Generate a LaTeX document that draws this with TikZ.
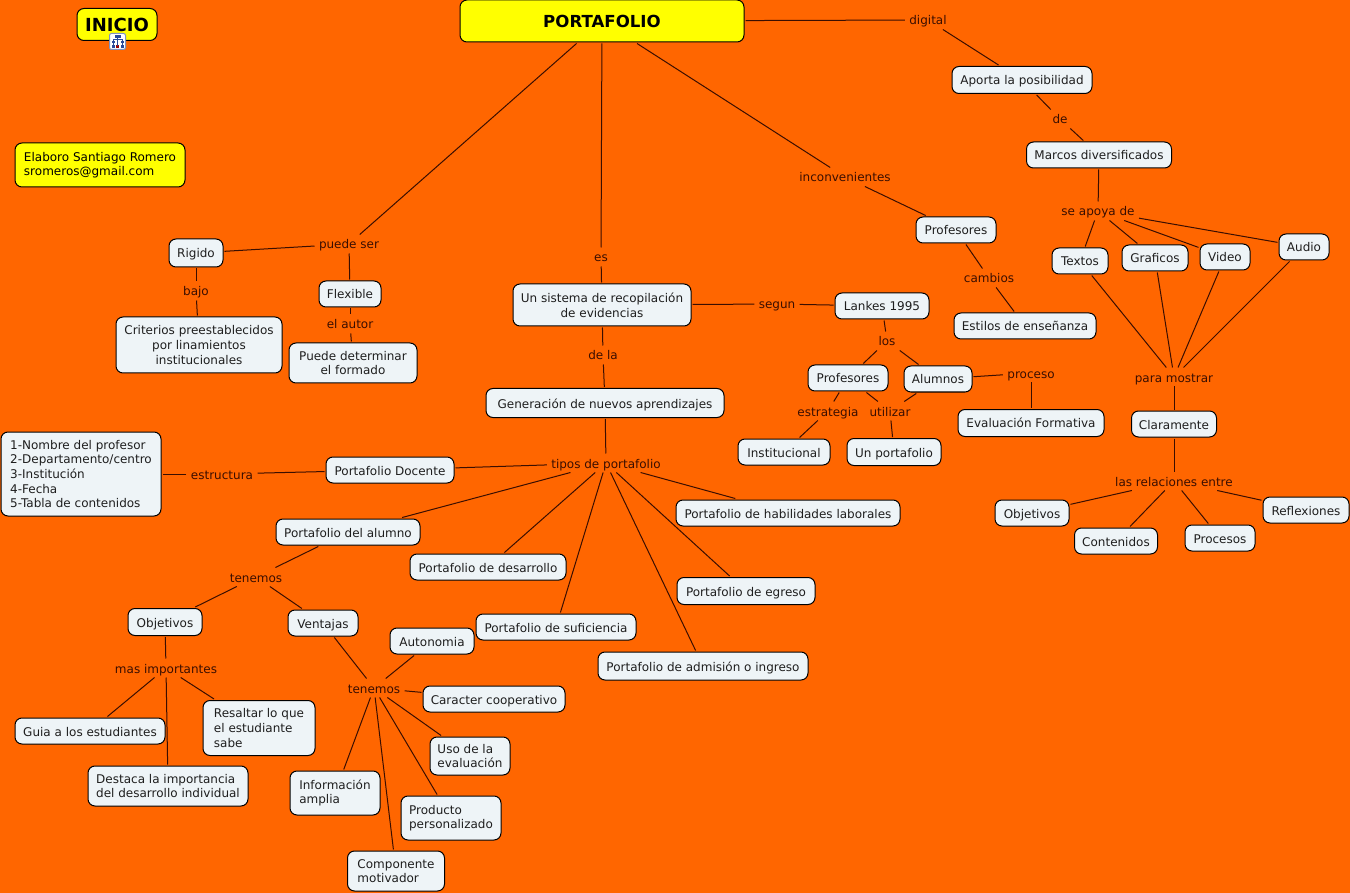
\documentclass[tikz,border=0pt]{standalone}
\usepackage{fontspec}
\setmainfont{DejaVu Sans}
\usetikzlibrary{positioning,calc}
\definecolor{paper}   {HTML}{FF6600}
\definecolor{ink}     {HTML}{1E1E1E}
\definecolor{linkink} {HTML}{3A0E00}
\definecolor{boxfill} {HTML}{EEF4F7}
\definecolor{topfill} {HTML}{FFFF00}
\definecolor{iconblue}{HTML}{2A4A9A}
\tikzset{
  % --- nodes
  bx/.style    = {rounded corners=7pt, draw=black, fill=boxfill, text=ink, align=center,
                  inner sep=0pt, outer sep=1.5pt, line width=1pt,
                  font=\fontsize{12}{14.6}\selectfont},
  con/.style   = {bx, text height=10pt, text depth=0pt},
  conc/.style  = {bx},
  conl/.style  = {bx, align=left},
  top/.style   = {bx, fill=topfill, text=black},
  lnk/.style   = {text=linkink, inner sep=1pt, outer sep=3.5pt, text height=10pt, text depth=0pt,
                  font=\fontsize{12}{14.6}\selectfont},
  % --- edges
  ln/.style    = {draw=linkink, line width=1pt},
}
\begin{document}
\begin{tikzpicture}[x=1pt,y=-1pt]
  \useasboundingbox (0,0) rectangle (1350,893);
  \fill[paper] (0,0) rectangle (1350,893);

  % top row
  \node[top,minimum width=80,minimum height=32,font=\fontsize{18}{18}\selectfont\bfseries] (inicio) at (117,24.5) {INICIO};
  \node[top,minimum width=284,minimum height=42,font=\fontsize{16.6}{18}\selectfont\bfseries] (port) at (602,21) {PORTAFOLIO};
  \node[top,align=left,minimum width=170,minimum height=44] (autor) at (100,165) {Elaboro Santiago Romero\\sromeros@gmail.com};

  % digital branch
  \node[lnk] (digital) at (928,20) {digital};
  \node[con,minimum width=140,minimum height=27] (aporta) at (1022,80) {Aporta la posibilidad};
  \node[lnk] (de) at (1060,119) {de};
  \node[con,minimum width=145,minimum height=26] (marcos) at (1099,155) {Marcos diversificados};
  \node[lnk] (apoya) at (1098,211) {se apoya de};
  \node[con,minimum width=56,minimum height=26] (textos) at (1080,261) {Textos};
  \node[con,minimum width=66,minimum height=26] (graficos) at (1155,258) {Graficos};
  \node[con,minimum width=50,minimum height=26] (video) at (1225,257) {Video};
  \node[con,minimum width=50,minimum height=26] (audio) at (1304,247) {Audio};
  \node[lnk] (mostrar) at (1174,377) {para mostrar};
  \node[con,minimum width=85,minimum height=26] (claro) at (1174,424) {Claramente};
  \node[lnk] (relac) at (1174,481) {las relaciones entre};
  \node[con,minimum width=74,minimum height=26] (obj2) at (1032,513) {Objetivos};
  \node[con,minimum width=83,minimum height=26] (conten) at (1116,541) {Contenidos};
  \node[con,minimum width=70,minimum height=26] (proces) at (1220,538) {Procesos};
  \node[con,minimum width=86,minimum height=26] (reflex) at (1306,510) {Reflexiones};

  % inconvenientes
  \node[lnk] (incon) at (845,177) {inconvenientes};
  \node[con,minimum width=80,minimum height=26] (prof1) at (956,230) {Profesores};
  \node[lnk] (cambios) at (989,278) {cambios};
  \node[con,minimum width=142,minimum height=26] (estilos) at (1025,326) {Estilos de enseñanza};

  % centre
  \node[lnk] (es) at (601,257) {es};
  \node[conc,minimum width=178,minimum height=42] (sistema) at (602,305) {Un sistema de recopilación\\de evidencias};
  \node[lnk] (segun) at (777,304) {segun};
  \node[con,minimum width=94,minimum height=26] (lankes) at (882,306) {Lankes 1995};
  \node[lnk] (los) at (887,341) {los};
  \node[con,minimum width=80,minimum height=26] (prof2) at (848,378) {Profesores};
  \node[con,minimum width=68,minimum height=26] (alum) at (938,379) {Alumnos};
  \node[lnk] (estrat) at (828,411) {estrategia};
  \node[lnk] (utiliz) at (890,411) {utilizar};
  \node[con,minimum width=92,minimum height=26] (instit) at (784,452) {Institucional};
  \node[con,minimum width=94,minimum height=27] (unport) at (894,452) {Un portafolio};
  \node[lnk] (proceso) at (1031,373) {proceso};
  \node[con,minimum width=146,minimum height=27] (evalu) at (1031,423) {Evaluación Formativa};
  \node[lnk] (dela) at (603,355) {de la};
  \node[con,minimum width=238,minimum height=29] (genera) at (605,403) {Generación de nuevos aprendizajes};
  \node[lnk] (tipos) at (606,463) {tipos de portafolio};

  % tipos de portafolio
  \node[con,minimum width=128,minimum height=26] (docente) at (390,470) {Portafolio Docente};
  \node[lnk] (estruc) at (222,474) {estructura};
  \node[conl,minimum width=160,minimum height=84] (lista) at (81,474) {1-Nombre del profesor\\2-Departamento/centro\\3-Institución\\4-Fecha\\5-Tabla de contenidos};
  \node[con,minimum width=144,minimum height=26] (alumno) at (348,532) {Portafolio del alumno};
  \node[con,minimum width=156,minimum height=26] (desarr) at (488,567) {Portafolio de desarrollo};
  \node[con,minimum width=160,minimum height=26] (sufic) at (556,627) {Portafolio de suficiencia};
  \node[con,minimum width=210,minimum height=28] (admis) at (703,666) {Portafolio de admisión o ingreso};
  \node[con,minimum width=138,minimum height=27] (egreso) at (746,591) {Portafolio de egreso};
  \node[con,minimum width=224,minimum height=26] (habil) at (788,513) {Portafolio de habilidades laborales};

  % alumno
  \node[lnk] (tenem1) at (256,577) {tenemos};
  \node[con,minimum width=74,minimum height=27] (obj1) at (165,622) {Objetivos};
  \node[con,minimum width=70,minimum height=26] (ventaj) at (323,623) {Ventajas};
  \node[lnk] (masimp) at (166,668) {mas importantes};
  \node[con,minimum width=150,minimum height=26] (guia) at (90,731) {Guia a los estudiantes};
  \node[conl,minimum width=112,minimum height=55] (resalt) at (259,728) {Resaltar lo que\\el estudiante\\sabe};
  \node[conl,minimum width=160,minimum height=40] (destac) at (168,786) {Destaca la importancia\\del desarrollo individual};
  \node[lnk] (tenem2) at (374,688) {tenemos};
  \node[con,minimum width=84,minimum height=26] (auton) at (432,641) {Autonomia};
  \node[con,minimum width=142,minimum height=26] (caract) at (494,699) {Caracter cooperativo};
  \node[conl,minimum width=80,minimum height=38] (uso) at (470,756) {Uso de la\\evaluación};
  \node[conl,minimum width=100,minimum height=44] (produ) at (451,818) {Producto\\personalizado};
  \node[conl,minimum width=90,minimum height=44] (inform) at (335,793) {Información\\amplia};
  \node[conl,minimum width=97,minimum height=40] (compo) at (396,871) {Componente\\motivador};

  % puede ser
  \node[lnk] (puede) at (349,244) {puede ser};
  \node[con,minimum width=54,minimum height=28] (rigido) at (196,253) {Rigido};
  \node[con,minimum width=62,minimum height=26] (flex) at (350,294) {Flexible};
  \node[lnk] (elaut) at (350,324) {el autor};
  \node[conc,minimum width=128,minimum height=40] (deter) at (353,363) {Puede determinar\\el formado};
  \node[lnk] (bajo) at (196,291) {bajo};
  \node[conc,minimum width=166,minimum height=56] (crit) at (199,345) {Criterios preestablecidos\\por linamientos\\institucionales};

  \foreach \a/\b in {port/digital,digital/aporta,aporta/de,de/marcos,marcos/apoya,
                     apoya/textos,apoya/graficos,apoya/video,apoya/audio,
                     textos/mostrar,graficos/mostrar,video/mostrar,audio/mostrar,
                     mostrar/claro,claro/relac,relac/obj2,relac/conten,relac/proces,relac/reflex,
                     port/incon,incon/prof1,prof1/cambios,cambios/estilos,
                     port/es,es/sistema,sistema/segun,segun/lankes,lankes/los,los/prof2,los/alum,
                     prof2/estrat,estrat/instit,prof2/utiliz,alum/utiliz,utiliz/unport,
                     alum/proceso,proceso/evalu,
                     sistema/dela,dela/genera,genera/tipos,
                     tipos/docente,docente/estruc,estruc/lista,
                     tipos/alumno,tipos/desarr,tipos/sufic,tipos/admis,tipos/egreso,tipos/habil,
                     alumno/tenem1,tenem1/obj1,tenem1/ventaj,obj1/masimp,
                     masimp/guia,masimp/resalt,masimp/destac,
                     ventaj/tenem2,tenem2/auton,tenem2/caract,tenem2/uso,tenem2/produ,
                     tenem2/inform,tenem2/compo,
                     port/puede,puede/rigido,puede/flex,flex/elaut,elaut/deter,
                     rigido/bajo,bajo/crit}
    \draw[ln] (\a) -- (\b);

  % little map icon under INICIO
  \draw[draw=iconblue!60,fill=white,rounded corners=2pt,line width=1pt] (109.5,33.5) rectangle (125.5,49.5);
  \fill[iconblue] (114.5,35.5) rectangle (120.5,38);
  \fill[iconblue] (111.5,41) rectangle (114.5,43.5);
  \fill[iconblue] (120.5,41) rectangle (123.5,43.5);
  \fill[iconblue] (111.5,45.5) rectangle (114.5,48);
  \fill[red!60!black] (116,45.5) rectangle (119,48);
  \fill[iconblue] (120.5,45.5) rectangle (123.5,48);
  \draw[iconblue,line width=0.6pt] (117.5,38) -- (117.5,46) (113,43.5) -- (113,45.5) (122,43.5) -- (122,45.5) (113,41) -- (113,39.8) -- (122,39.8) -- (122,41);
\end{tikzpicture}
\end{document}
